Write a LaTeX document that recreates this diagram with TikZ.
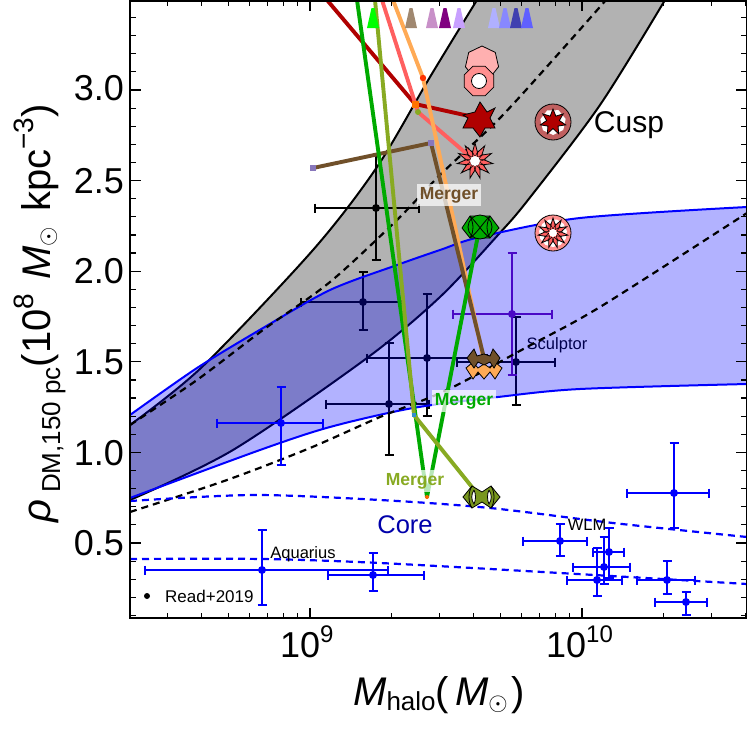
\documentclass[tikz,border=0pt]{standalone}
\usepackage{fontspec}
\setmainfont{Liberation Sans}
\newcommand{\fsz}[1]{\fontsize{#1}{#1}\selectfont}
\newcommand{\ebar}[8]{% colour,x,y,xl,xr,yt,yb
 \draw[ebarline,#1] (#4,#3) -- (#5,#3) (#2,#6) -- (#2,#7)
   (#4,#3-4.5) -- (#4,#3+4.5) (#5,#3-4.5) -- (#5,#3+4.5)
   (#2-4.5,#6) -- (#2+4.5,#6) (#2-4.5,#7) -- (#2+4.5,#7);
 \fill[#1] (#2,#3) circle (#8);}
\newcommand{\spiky}[7]{%
 \pgfmathtruncatemacro\kmax{2*#3-1}\pgfmathtruncatemacro\ksamp{2*#3}%
 \draw[#7] plot[domain=0:\kmax,samples=\ksamp,variable=\k]
  ({#1+ifthenelse(mod(round(\k),2)==0,#4,#5)*cos(#6+180*\k/#3)},
   {#2+ifthenelse(mod(round(\k),2)==0,#4,#5)*sin(#6+180*\k/#3)}) -- cycle;}
\newcommand{\polyg}[6]{%
 \pgfmathtruncatemacro\kmax{#3-1}%
 \draw[#6] plot[domain=0:\kmax,samples=#3,variable=\k]
  ({#1+#4*cos(#5+360*\k/#3)},{#2+#4*sin(#5+360*\k/#3)}) -- cycle;}
\definecolor{gband}{HTML}{B2B2B2}
\definecolor{tDarkred}{HTML}{B00000}
\definecolor{tSalmon}{HTML}{FF5F5F}
\definecolor{tOrange}{HTML}{FFAA55}
\definecolor{tBrown}{HTML}{70502A}
\definecolor{tGreen}{HTML}{00AA00}
\definecolor{tOlive}{HTML}{88AA22}
\definecolor{tPurple}{HTML}{6A0DAD}
\definecolor{joint}{HTML}{8877BB}
\tikzset{
 ebarline/.style={line width=1.5pt},
 track/.style={line width=3.9pt,line join=round},
 mk/.style={draw=black,line width=0.8pt,line join=miter},
 bandline/.style={line width=2pt},
 dashline/.style={dash pattern=on 7pt off 5pt,line width=2.2pt},
 mergerbox/.style={fill=white,fill opacity=0.72,text opacity=1,inner sep=3pt,font=\fsz{17.5}\bfseries},
 txt/.style={inner sep=0pt,font=\fsz{16.5}},
 ticktext/.style={inner sep=0pt,font=\fsz{36}},
}
\begin{document}
\begin{tikzpicture}[x=1pt,y=-1pt]
\useasboundingbox (0,0) rectangle (747,731);
\begin{scope}
\clip (130,1) rectangle (747,618);
% cusp band
\fill[gband] plot[smooth,tension=0.5] coordinates {(130,425) (202,367) (313,250) (377,167) (430,77) (477,0)}
 -- (665,0) -- plot[smooth,tension=0.5] coordinates {(665,0) (600,105) (528,200) (498,235) (440,297) (367,358) (233,450) (130,500)} -- cycle;
\draw[bandline] plot[smooth,tension=0.5] coordinates {(130,425) (202,367) (313,250) (377,167) (430,77) (477,0)};
\draw[bandline] plot[smooth,tension=0.5] coordinates {(665,0) (600,105) (528,200) (498,235) (440,297) (367,358) (233,450) (130,500)};
% data below the blue band
\ebar{black}{376}{208}{315}{419}{155}{260}{4}
\ebar{black}{363}{302}{301}{402}{272}{330}{4}
\ebar{black}{427}{358}{367}{487}{294}{416}{4}
\ebar{black}{389}{404}{326}{429}{343}{455}{4}
\ebar{black}{516}{362}{457}{555}{317}{405}{4}
\ebar{tPurple}{512}{314}{453}{552}{253}{375}{4}
\node[txt,anchor=center] (sculptor) at (557,345) {Sculptor};
% blue band
\fill[blue,fill opacity=0.3] plot[smooth,tension=0.5] coordinates {(130,415) (197,368) (263,328) (330,290) (397,265) (440,250) (480,237) (580,218) (747,207)}
 -- plot[smooth,tension=0.5] coordinates {(747,384) (580,389) (498,397) (413,408) (330,427) (260,450) (130,498)} -- cycle;
\draw[blue,bandline] plot[smooth,tension=0.5] coordinates {(130,415) (197,368) (263,328) (330,290) (397,265) (440,250) (480,237) (580,218) (747,207)};
\draw[blue,bandline] plot[smooth,tension=0.5] coordinates {(130,498) (260,450) (330,427) (413,408) (498,397) (580,389) (747,384)};
% dashed model lines
\draw[dashline] plot[smooth,tension=0.5] coordinates {(130,425) (197,380) (263,330) (330,282) (397,220) (440,175) (500,118) (560,52) (606,0)};
\draw[dashline] plot[smooth,tension=0.5] coordinates {(130,512) (227,480) (310,448) (380,417) (447,390) (527,347) (600,307) (747,213)};
\draw[blue,dashline] plot[smooth,tension=0.5] coordinates {(130,501) (253,495) (380,500) (490,508) (613,523) (747,537)};
\draw[blue,dashline] plot[smooth,tension=0.5] coordinates {(130,559) (263,559) (380,563) (560,573) (747,584)};
% blue data
\ebar{blue}{281}{423}{217}{323}{387}{465}{4}
\ebar{blue}{262}{570}{145}{388}{530}{605}{4}
\ebar{blue}{373}{575}{328}{424}{553}{591}{4}
\ebar{blue}{674}{493}{627}{709}{443}{528}{4}
\ebar{blue}{560}{541}{523}{587}{524}{556}{4}
\ebar{blue}{609}{552}{593}{624}{528}{578}{4}
\ebar{blue}{604}{567}{573}{630}{537}{584}{4}
\ebar{blue}{597}{580}{567}{622}{548}{596}{4}
\ebar{blue}{667}{580}{637}{695}{561}{594}{4}
\ebar{blue}{686}{602}{655}{707}{592}{615}{4}
% labels
\node[txt,anchor=center] (aquarius) at (303,554) {Aquarius};
\node[txt,anchor=center] (wlm) at (587,525) {WLM};
\fill (147,596) circle (3);
\node[txt,anchor=west,font=\fsz{17}] (read) at (165,596) {Read+2019};
\node[inner sep=0pt,font=\fsz{25.5},text={rgb,255:red,0;green,0;blue,170}] (core) at (405,525) {Core};
\node[inner sep=0pt,font=\fsz{30}] (cusp) at (629,125) {Cusp};
% marker anchors
\coordinate (mRed) at (478,118);
\coordinate (mSalmon) at (475,161);
\coordinate (mBrown) at (484,358);
\coordinate (mOrange) at (485,366);
\coordinate (mGreen) at (479,230);
\coordinate (mOlive) at (480,497);
\coordinate (jRed) at (415,104);
\coordinate (jSalmon) at (418,112);
\coordinate (jOrange) at (423,78);
\coordinate (jBrownA) at (313,168);
\coordinate (jBrownB) at (431,143);
\coordinate (jOlive) at (414,415);
\coordinate (jGreen) at (427,497);
\coordinate (sRed) at (327,0);
\coordinate (sSalmon) at (382,0);
\coordinate (sOrange) at (393,0);
\coordinate (sGreen) at (357,0);
\coordinate (sOlive) at (375,0);
% tracks
\draw[track,tDarkred] (sRed) -- (jRed) -- (mRed);
\draw[track,tSalmon] (sSalmon) -- (jSalmon) -- (mSalmon);
\draw[track,tOrange] (sOrange) -- (jOrange) -- (mOrange);
\draw[track,tBrown] (jBrownA) -- (jBrownB) -- (mBrown);
\draw[track,tGreen] (sGreen) -- (jGreen) -- (mGreen);
\draw[track,tOlive] (sOlive) -- (jOlive) -- (mOlive);
% joints
\fill[joint] (jBrownA) ++(-3,-3) rectangle ++(6,6);
\fill[joint] (jBrownB) ++(-3,-3) rectangle ++(6,6);
\fill[orange!90!red] (jRed) ++(-3.5,-3.5) rectangle ++(7,7);
\fill[tOlive] (jSalmon) circle (3);
\fill[red!60!orange] (jOrange) circle (3.2);
\fill[blue!40!cyan!60!gray] (jOlive) ++(-2,-2) rectangle ++(4,4);
\fill[orange!80!red] (jGreen) circle (2);
% triangles
\foreach \cx/\col in {373/00FF00,411/A08870,432/C890C8,445/800080,459/C8A0FF,494/B0B0FF,505/8888FF,516/4040B0,527/6060FF}{
 \definecolor{tricol}{HTML}{\col}
 \fill[tricol] (\cx-1.5,8) -- (\cx+1.5,8) -- (\cx+6,28) -- (\cx-6,28) -- cycle;}
% merger labels
\node[mergerbox,text=tBrown] (mergerA) at (449,195) {Merger};
\node[mergerbox,text=tGreen] (mergerB) at (464,401) {Merger};
\node[mergerbox,text=tOlive] (mergerC) at (415,481) {Merger};
% hexagon and circle markers
\polyg{482}{63}{7}{17}{-90}{mk,fill={rgb,255:red,255;green,176;blue,176}}
\polyg{479}{81}{8}{16}{22.5}{mk,fill={rgb,255:red,255;green,144;blue,144}}
\draw[mk,fill=white] (479,81) circle (7.5);
% red star
\draw[mk,fill=tDarkred] (480,102) -- (487,112) -- (495,108) -- (490,118) -- (495,128) -- (485,128) -- (480,137) -- (473,128) -- (463,128) -- (468,118) -- (463,115) -- (475,112) -- cycle;
% salmon starburst
\spiky{475}{161}{11}{18}{9}{-90}{mk,fill=tSalmon}
\spiky{475}{161}{11}{10}{4}{-73.6}{draw=black,line width=0.5pt,fill=tSalmon}
\fill[white] (475,161) circle (5);
% circled star
\draw[mk,fill={rgb,255:red,192;green,96;blue,96}] (553,122) circle (18);
\polyg{553}{122}{7}{13}{-65}{draw=none,fill=white}
\spiky{553}{122}{7}{13}{6.5}{-90}{mk,fill=tDarkred}
% circled starburst
\draw[mk,fill={rgb,255:red,255;green,144;blue,144}] (553,233) circle (18);
\polyg{553}{233}{11}{14}{-73.6}{draw=none,fill=white}
\spiky{553}{233}{11}{15}{8}{-90}{mk,fill=tSalmon}
\spiky{553}{233}{11}{9}{4}{-73.6}{draw=black,line width=0.5pt,fill=tSalmon}
\fill[white] (553,233) circle (4);
% green marker
\draw[mk,fill=tGreen] (462,228) -- (470,216) -- (490,216) -- (499,228) -- (490,238) -- (470,238) -- cycle;
\draw[mk,fill=tGreen] (480,227) circle (12);
\draw[mk] (470,216) .. controls (478,224) and (482,232) .. (490,238) (490,216) .. controls (482,224) and (478,232) .. (470,238)
 (470,216) .. controls (474,224) and (474,232) .. (470,238) (490,216) .. controls (486,224) and (486,232) .. (490,238);
% orange and brown marker
\draw[mk,fill=tOrange] (466,368) -- (473,362) -- (478,368) -- (484,364) -- (490,368) -- (495,362) -- (502,368) -- (495,379) -- (490,372) -- (484,379) -- (478,372) -- (473,379) -- cycle;
\draw[mk,fill=tBrown] (467,358) -- (474,349) -- (477,356) -- (484,354) -- (490,356) -- (493,349) -- (500,358) -- (494,368) -- (490,362) -- (484,365) -- (478,362) -- (474,368) -- cycle;
% olive marker
\draw[mk,fill={rgb,255:red,120;green,150;blue,30}] (463,497) -- (472,486) -- (482,492) -- (491,486) -- (500,497) -- (491,508) -- (482,502) -- (472,508) -- cycle;
\draw[mk] (472,486) .. controls (468,492) and (468,502) .. (472,508) (491,486) .. controls (495,492) and (495,502) .. (491,508);
\draw[mk,fill=white] (474,490) .. controls (471,494) and (471,500) .. (474,504) .. controls (476,500) and (476,494) .. (474,490);
\draw[mk,fill=white] (489,490) .. controls (487,494) and (487,500) .. (489,504) .. controls (492,500) and (492,494) .. (489,490);
\end{scope}
% ticks
\foreach \v in {1,...,34}{
 \pgfmathsetmacro\py{543-(\v/10-0.5)*181.2}
 \draw[line width=1.2pt] (130,\py) -- (136,\py) (747,\py) -- (741,\py);}
\foreach \v in {5,10,...,30}{
 \pgfmathsetmacro\py{543-(\v/10-0.5)*181.2}
 \draw[line width=1.2pt] (130,\py) -- (141,\py) (747,\py) -- (736,\py);}
\foreach \d/\base in {0/38,1/310,2/582}{
 \foreach \m in {1,...,9}{
  \pgfmathsetmacro\px{\base+272*log10(\m)}
  \pgfmathparse{(\px>131 && \px<746)?1:0}
  \ifnum\pgfmathresult=1
   \draw[line width=1.2pt] (\px,618) -- (\px,613) (\px,1) -- (\px,6);
  \fi}}
\foreach \px in {310,582}{\draw[line width=1.2pt] (\px,618) -- (\px,608) (\px,1) -- (\px,11);}
\draw[line width=1.6pt] (130,1) rectangle (746.4,618);
% tick labels
\node[ticktext,anchor=east] (y30) at (124,88) {3.0};
\node[ticktext,anchor=east] (y25) at (124,181) {2.5};
\node[ticktext,anchor=east] (y20) at (124,271) {2.0};
\node[ticktext,anchor=east] (y15) at (124,362) {1.5};
\node[ticktext,anchor=east] (y10) at (124,453) {1.0};
\node[ticktext,anchor=east] (y05) at (124,543) {0.5};
\node[ticktext,anchor=base west] (x9) at (280,657) {10\raisebox{15pt}{\fsz{24}9}};
\node[ticktext,anchor=base west] (x10) at (546,657) {10\raisebox{15pt}{\fsz{24}10}};
% axis labels
\node[inner sep=0pt,anchor=base west,font=\fsz{40}] (xlabel) at (353,705)
 {\textit{M}\raisebox{-5pt}{\fsz{26}halo}(\kern6pt\textit{M}\raisebox{-5pt}{\fsz{30}$\odot$}\kern4pt)};
\node[inner sep=0pt,anchor=base west,rotate=90,font=\fsz{40}] (ylabel) at (50,523)
 {\textit{ρ}\kern7pt\raisebox{-10pt}{\fsz{26}DM,150 pc}(10\raisebox{17pt}{\fsz{28}8}\kern3pt\ \textit{M}\raisebox{-5pt}{\fsz{30}$\odot$}\kern4pt\ kpc\raisebox{17pt}{\fsz{28}−3})};
\end{tikzpicture}
\end{document}
